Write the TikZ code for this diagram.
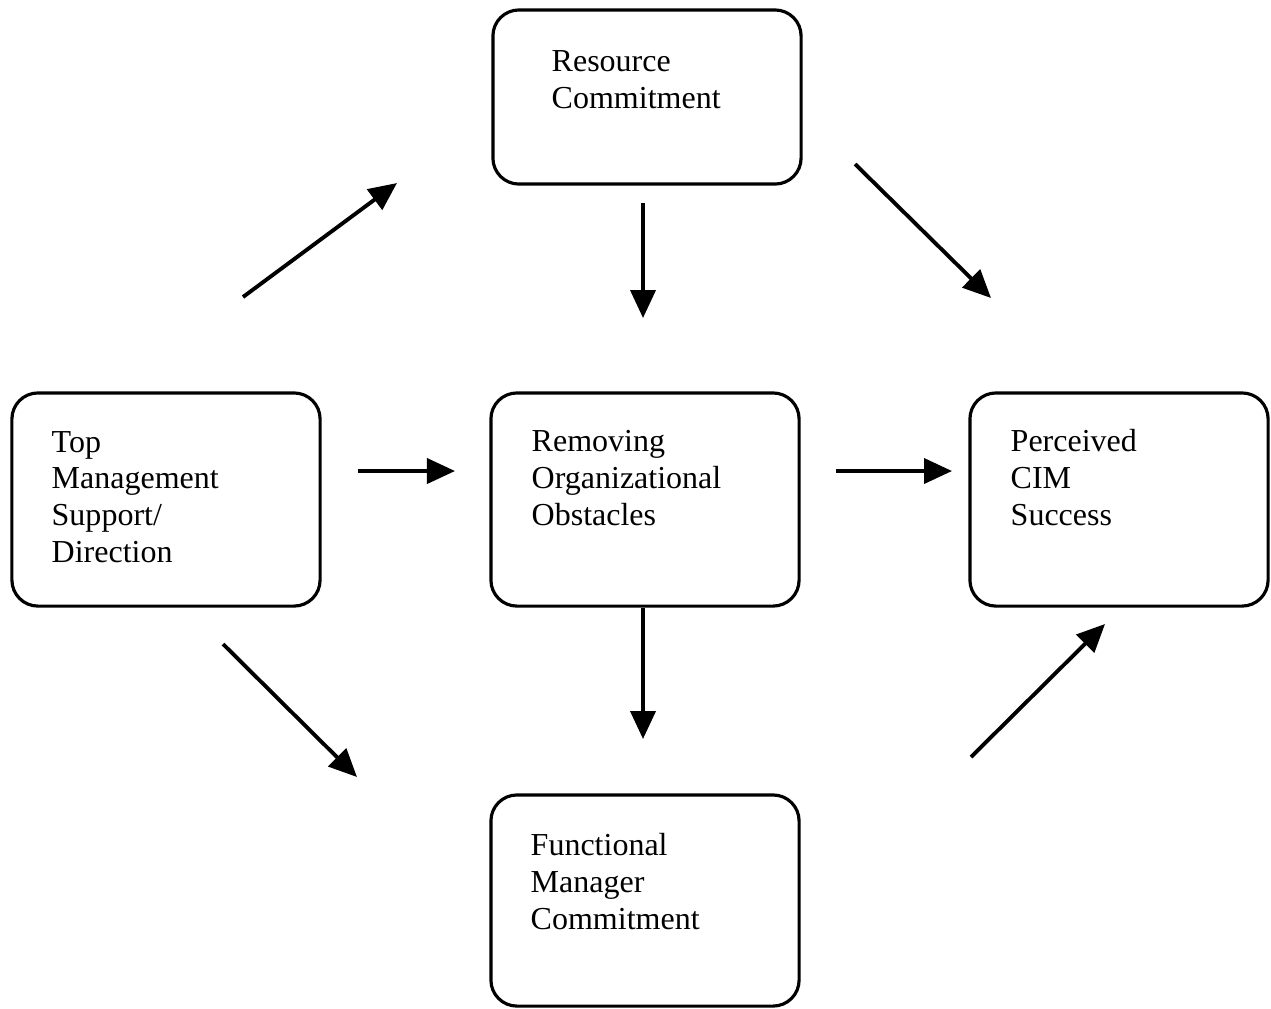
\documentclass[tikz,border=0pt]{standalone}
\usepackage{fontspec}
\setmainfont{Liberation Serif}
\usepackage{tikz}
\usetikzlibrary{arrows.meta,positioning}

\tikzset{
	box/.style={draw, line width=0.9pt, rounded corners=0.26cm, minimum width=3.08cm, minimum height=2.13cm, inner sep=0pt},
	boxtext/.style={anchor=base west, align=left, inner sep=0pt, font=\fontsize{9.1}{10.4}\selectfont},
	arr/.style={line width=1.1pt, -{Triangle[length=0.28cm,width=0.25cm]}}
}

\begin{document}
\begin{tikzpicture}[x=0.01cm, y=-0.01cm]
				\useasboundingbox (0,0) rectangle (1271,1008);
				
				% boxes
				\node [box, minimum height=1.74cm] (res) at (647,97) {};
				\node [box] (top) at (166,499.5) {};
				\node [box] (rem) at (645,499.5) {};
				\node [box, minimum width=2.98cm] (per) at (1119,499.5) {};
				\node [box, minimum height=2.11cm] (fun) at (645,900.5) {};
				
				% text sits on the baseline of its last line
				\node [boxtext] (res-txt) at (551,108) {Resource\\Commitment};
				\node [boxtext] (top-txt) at (51,562) {Top\\Management\\Support/\\Direction};
				\node [boxtext] (rem-txt) at (531,525) {Removing\\Organizational\\Obstacles};
				\node [boxtext] (per-txt) at (1010,525) {Perceived\\CIM\\Success};
				\node [boxtext] (fun-txt) at (530,929) {Functional\\Manager\\Commitment};
				
				% % % % % % % % % % % % % % % % % % % % % % % % % %
				
				\coordinate (top-a) at (243,297);
				\coordinate (res-a) at (397,183);
				\coordinate (res-b) at (643,203);
				\coordinate (rem-b) at (643,318);
				\coordinate (res-c) at (855,164);
				\coordinate (per-c) at (991,298);
				\coordinate (top-d) at (358,471);
				\coordinate (rem-d) at (455,471);
				\coordinate (rem-e) at (836,471);
				\coordinate (per-e) at (952,471);
				\coordinate (top-f) at (223,644);
				\coordinate (fun-f) at (357,777);
				\coordinate (rem-g) at (643,739);
				\coordinate (fun-h) at (971,757);
				\coordinate (per-h) at (1105,624);
				
				\draw [arr] (top-a) -- (res-a);
				\draw [arr] (res-b) -- (rem-b);
				\draw [arr] (res-c) -- (per-c);
				\draw [arr] (top-d) -- (rem-d);
				\draw [arr] (rem-e) -- (per-e);
				\draw [arr] (top-f) -- (fun-f);
				\draw [arr] (rem.south -| rem-g) -- (rem-g);
				\draw [arr] (fun-h) -- (per-h);
\end{tikzpicture}
\end{document}
